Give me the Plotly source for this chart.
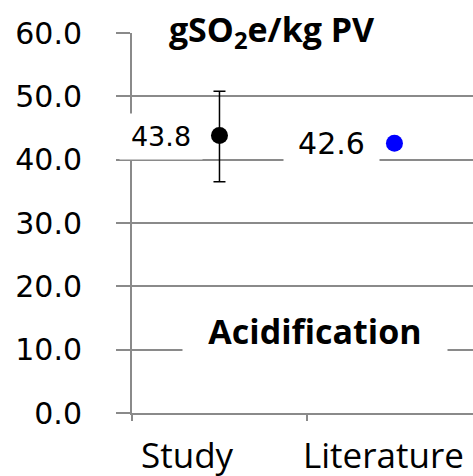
import plotly.graph_objects as go

categories = ["Study", "Literature"]
study_value = [43.8]
study_err_plus = [7.0]
study_err_minus = [7.3]
literature_value = [42.6]
y_ticks = [0, 10, 20, 30, 40, 50, 60]
unit_label = "gSO<sub>2</sub>e/kg PV"
impact_label = "Acidification"

GRID = "#8a8a8a"

fig = go.Figure()
fig.add_trace(go.Scatter(
    x=[categories[0]], y=study_value, mode="markers",
    marker=dict(color="black", size=17),
    error_y=dict(type="data", array=study_err_plus, arrayminus=study_err_minus,
                 color="black", thickness=1.5, width=6),
    showlegend=False, cliponaxis=False, hoverinfo="skip",
))
fig.add_trace(go.Scatter(
    x=[categories[1]], y=literature_value, mode="markers",
    marker=dict(color="#0000ff", size=17),
    showlegend=False, cliponaxis=False, hoverinfo="skip",
))

annotations = []
# data labels
annotations.append(dict(x=categories[0], y=study_value[0], xref="x", yref="y",
                        xanchor="center", yanchor="middle",
                        text=f"{study_value[0]:.1f}", showarrow=False,
                        xshift=-58, yshift=-1, width=80, height=43,
                        bgcolor="white",
                        font=dict(family="DejaVu Sans", size=27, color="black")))
annotations.append(dict(x=categories[1], y=literature_value[0], xref="x", yref="y",
                        xanchor="center", yanchor="middle",
                        text=f"{literature_value[0]:.1f}", showarrow=False,
                        xshift=-63, yshift=0, width=93, height=44,
                        bgcolor="white",
                        font=dict(family="DejaVu Sans", size=30, color="black")))
# unit title
annotations.append(dict(x=0.41, y=1.0, xref="paper", yref="paper",
                        xanchor="center", yanchor="middle",
                        text=unit_label, showarrow=False, width=270, height=44,
                        yshift=2, bgcolor="white",
                        font=dict(family="Open Sans", size=34, color="black", weight="bold")))
# impact name
annotations.append(dict(x=0.537, y=0.216, xref="paper", yref="paper",
                        xanchor="center", yanchor="middle",
                        text=impact_label, showarrow=False, width=262, height=60,
                        bgcolor="white",
                        font=dict(family="Open Sans", size=34, color="black", weight="bold")))
# category labels
for cat, sh in zip(categories, [-32, -11]):
    annotations.append(dict(x=cat, y=0, xref="x", yref="paper",
                            xanchor="center", yanchor="top",
                            text=cat, showarrow=False, xshift=sh, yshift=-16,
                            font=dict(family="Open Sans", size=35, color="black")))

fig.update_layout(
    width=473, height=476,
    margin=dict(l=132, r=0, t=33, b=63),
    plot_bgcolor="white", paper_bgcolor="white",
    annotations=annotations,
    hovermode=False,
    xaxis=dict(type="category", categoryorder="array", categoryarray=categories,
               range=[-0.5, 1.449], showgrid=False, zeroline=False,
               showline=True, linecolor=GRID, linewidth=2,
               ticks="outside", tickson="boundaries", ticklen=6, tickwidth=2,
               tickcolor=GRID, showticklabels=False),
    yaxis=dict(range=[0, 60], tickvals=y_ticks, tickformat=".1f",
               showgrid=True, gridcolor=GRID, gridwidth=1.5, zeroline=False,
               showline=True, linecolor=GRID, linewidth=2,
               ticks="outside", ticklen=14, tickwidth=1.5, tickcolor=GRID,
               ticklabelstandoff=28,
               tickfont=dict(family="DejaVu Sans", size=30, color="black")),
)

fig.write_html(
    "out.html",
    config={"displayModeBar": False},
    post_script="document.body.style.margin='0px';document.body.style.overflow='hidden';",
)
